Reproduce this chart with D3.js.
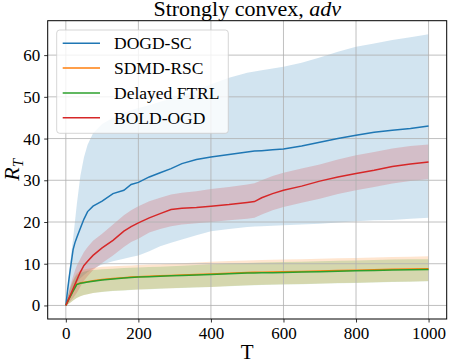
<!DOCTYPE html>
<html>
<head>
    <script src="https://cdnjs.cloudflare.com/ajax/libs/d3/7.8.5/d3.min.js"></script>
    <style>
        body { margin: 0; background: #fff; }
        svg { display: block; }
        svg text, svg tspan { font-family: "Times New Roman", "Liberation Serif" !important; }
    </style>
</head>
<body>
<div id="chart"></div>
<script>
    // Time steps shared by all series
    const T = [0, 5, 10, 15, 20, 25, 30, 40, 50, 60, 75, 100, 130, 160, 180, 200, 230, 260, 290, 320,
               360, 400, 450, 500, 520, 540, 570, 600, 650, 700, 750, 800, 850, 900, 950, 1000];

    const methods = ["DOGD-SC", "SDMD-RSC", "Delayed FTRL", "BOLD-OGD"];
    const colors = ["#1f77b4", "#ff7f0e", "#2ca02c", "#d62728"];

    // DOGD-SC
    const dogdMean = [0, 3.8, 7.2, 10.3, 13.4, 15, 16.2, 18.5, 20.7, 22.5, 23.8, 25, 26.8, 27.6, 29, 29.5, 30.8, 31.8, 32.8, 34,
                      35, 35.6, 36.2, 36.8, 37, 37.1, 37.3, 37.5, 38.2, 39.1, 40, 40.8, 41.5, 42, 42.4, 43];
    const dogdHigh = [0, 4.5, 8.5, 12.5, 16, 20, 24, 31, 35.5, 38.5, 41.3, 43.5, 45, 46.2, 46.8, 47.3, 48, 48.8, 49.6, 50.4,
                      51.6, 53, 54.6, 55.8, 56.1, 56.4, 56.8, 57.2, 58.2, 59.4, 60.8, 62, 62.8, 63.6, 64.3, 65];
    const dogdLow = [0, 1, 2, 3, 4, 4.8, 5.5, 6.5, 7.3, 8, 8.8, 9.8, 10.6, 11.2, 11.6, 12, 13, 14.2, 15, 15.8,
                     16.8, 17.8, 18.3, 18.8, 18.9, 19, 19.1, 19.2, 19.4, 19.6, 19.9, 20.2, 20.4, 20.5, 20.8, 21];

    // SDMD-RSC
    const sdmdMean = [0, 0.9, 1.8, 2.7, 3.5, 4.3, 5.1, 5.4, 5.55, 5.7, 5.9, 6.2, 6.45, 6.65, 6.8, 6.9, 7.0, 7.1, 7.2, 7.3,
                      7.42, 7.53, 7.72, 7.88, 7.93, 7.96, 8.0, 8.05, 8.15, 8.25, 8.36, 8.46, 8.56, 8.66, 8.72, 8.8];
    const sdmdHigh = [0, 2.1, 3.7, 5.1, 6.1, 7, 7.7, 8.3, 8.6, 8.8, 9, 9.3, 9.4, 9.5, 9.6, 9.7, 9.8, 9.9, 10, 10.1,
                      10.3, 10.5, 10.65, 10.8, 10.85, 10.9, 10.95, 11, 11.1, 11.2, 11.3, 11.4, 11.5, 11.6, 11.7, 11.8];
    const sdmdLow = [0, 0.2, 0.5, 0.8, 1.2, 1.5, 1.8, 2.2, 2.5, 2.7, 3, 3.3, 3.5, 3.65, 3.75, 3.85, 3.95, 4.05, 4.15, 4.25,
                     4.35, 4.45, 4.65, 4.85, 4.9, 4.95, 5, 5.05, 5.15, 5.25, 5.35, 5.45, 5.55, 5.65, 5.75, 5.85];

    // Delayed FTRL
    const ftrlMean = [0, 0.9, 1.8, 2.6, 3.4, 4.2, 5, 5.3, 5.45, 5.6, 5.8, 6.1, 6.35, 6.55, 6.7, 6.8, 6.9, 7.0, 7.1, 7.2,
                      7.3, 7.4, 7.6, 7.75, 7.8, 7.82, 7.86, 7.9, 8.0, 8.1, 8.2, 8.3, 8.4, 8.5, 8.55, 8.6];
    const ftrlHigh = [0, 2, 3.5, 4.8, 5.8, 6.7, 7.3, 7.8, 8.1, 8.3, 8.5, 8.7, 8.8, 8.95, 9.05, 9.1, 9.2, 9.3, 9.4, 9.5,
                      9.7, 9.9, 10.05, 10.2, 10.25, 10.3, 10.35, 10.4, 10.5, 10.6, 10.7, 10.8, 10.9, 11, 11.05, 11.1];
    const ftrlLow = [0, 0.2, 0.5, 0.8, 1.2, 1.5, 1.8, 2.2, 2.5, 2.7, 3, 3.2, 3.45, 3.6, 3.7, 3.8, 3.9, 4, 4.1, 4.2,
                     4.3, 4.4, 4.6, 4.8, 4.85, 4.9, 4.95, 5, 5.1, 5.2, 5.3, 5.4, 5.5, 5.6, 5.7, 5.8];

    // BOLD-OGD
    const boldMean = [0, 1, 2, 3, 4, 5, 6, 8, 9.6, 10.6, 12, 13.8, 15.6, 17.8, 18.9, 19.8, 21, 22, 23, 23.3,
                      23.5, 23.8, 24.2, 24.7, 24.9, 25.8, 26.8, 27.6, 28.6, 29.8, 30.8, 31.6, 32.4, 33.3, 33.9, 34.4];
    const boldHigh = [0, 2, 4, 5.5, 7, 8.3, 9.5, 11.2, 12.8, 14, 15.5, 17.2, 19.4, 21.6, 22.8, 23.8, 25, 25.8, 26.6, 27,
                      27.4, 27.9, 28.4, 29, 29.3, 30, 31, 31.8, 32.8, 33.8, 35, 36, 36.8, 37.6, 38.2, 38.6];
    const boldLow = [0, 0.3, 0.8, 1.3, 1.8, 2.4, 3, 4.5, 6, 7, 8.5, 10.2, 12, 14, 15.2, 16, 17.5, 18.3, 19, 19.4,
                     19.7, 20, 20.4, 20.8, 21, 21.8, 22.8, 23.6, 24.6, 25.6, 26.7, 27.6, 28.4, 29.2, 29.8, 30.3];

    const xTicks = [0, 200, 400, 600, 800, 1000];
    const yTicks = [0, 10, 20, 30, 40, 50, 60];

    const series = [
        { mean: dogdMean, high: dogdHigh, low: dogdLow },
        { mean: sdmdMean, high: sdmdHigh, low: sdmdLow },
        { mean: ftrlMean, high: ftrlHigh, low: ftrlLow },
        { mean: boldMean, high: boldHigh, low: boldLow }
    ];

    const FONT = "Times New Roman";
    const width = 449, height = 362;
    const margin = { left: 47.7, right: 2.3, top: 20.7, bottom: 43 };

    const svg = d3.select("#chart").append("svg")
        .attr("width", width)
        .attr("height", height)
        .attr("font-family", FONT);

    const x = d3.scaleLinear().domain([-50, 1050]).range([margin.left, width - margin.right]);
    const y = d3.scaleLinear().domain([-3.25, 68.25]).range([height - margin.bottom, margin.top]);

    // confidence bands
    series.forEach((s, i) => {
        const area = d3.area()
            .x((d, j) => x(T[j]))
            .y0((d, j) => y(s.low[j]))
            .y1((d, j) => y(s.high[j]));
        svg.append("path")
            .datum(s.mean)
            .attr("d", area)
            .attr("fill", colors[i])
            .attr("fill-opacity", 0.2);
    });

    // grid (above bands, below lines)
    svg.append("g").selectAll("line").data(xTicks).join("line")
        .attr("x1", d => x(d)).attr("x2", d => x(d))
        .attr("y1", margin.top).attr("y2", height - margin.bottom)
        .attr("stroke", "#b0b0b0").attr("stroke-width", 0.8);
    svg.append("g").selectAll("line").data(yTicks).join("line")
        .attr("y1", d => y(d)).attr("y2", d => y(d))
        .attr("x1", margin.left).attr("x2", width - margin.right)
        .attr("stroke", "#b0b0b0").attr("stroke-width", 0.8);

    // mean lines
    series.forEach((s, i) => {
        const line = d3.line()
            .x((d, j) => x(T[j]))
            .y(d => y(d));
        svg.append("path")
            .datum(s.mean)
            .attr("d", line)
            .attr("fill", "none")
            .attr("stroke", colors[i])
            .attr("stroke-width", 1.5);
    });

    // axes
    const xAxis = svg.append("g")
        .attr("transform", `translate(0,${height - margin.bottom})`)
        .call(d3.axisBottom(x).tickValues(xTicks).tickFormat(d3.format("d")).tickSize(3.5).tickPadding(4));
    const yAxis = svg.append("g")
        .attr("transform", `translate(${margin.left},0)`)
        .call(d3.axisLeft(y).tickValues(yTicks).tickFormat(d3.format("d")).tickSize(3.5).tickPadding(4));
    [xAxis, yAxis].forEach(a => {
        a.attr("font-family", FONT).attr("font-size", 17);
        a.select(".domain").remove();
        a.selectAll(".tick line").attr("stroke", "#000").attr("stroke-width", 0.8);
        a.selectAll(".tick text").attr("fill", "#000");
    });

    // frame
    svg.append("rect")
        .attr("x", margin.left).attr("y", margin.top)
        .attr("width", width - margin.left - margin.right)
        .attr("height", height - margin.top - margin.bottom)
        .attr("fill", "none").attr("stroke", "#000").attr("stroke-width", 1);

    // title
    const title = svg.append("text")
        .attr("x", (margin.left + width - margin.right) / 2)
        .attr("y", 16)
        .attr("text-anchor", "middle")
        .attr("font-size", 22);
    title.append("tspan").text("Strongly convex, ");
    title.append("tspan").attr("font-style", "italic").text("adv");

    // axis labels
    svg.append("text")
        .attr("x", (margin.left + width - margin.right) / 2)
        .attr("y", 359)
        .attr("text-anchor", "middle")
        .attr("font-size", 21)
        .text("T");

    const yl = svg.append("text")
        .attr("transform", `translate(19,${(margin.top + height - margin.bottom) / 2}) rotate(-90)`)
        .attr("text-anchor", "middle")
        .attr("font-size", 22)
        .attr("font-style", "italic");
    yl.append("tspan").text("R");
    yl.append("tspan").attr("font-size", 15).attr("dy", 4).text("T");

    // legend
    const lg = svg.append("g");
    lg.append("rect")
        .attr("x", 56.7).attr("y", 30)
        .attr("width", 171.6).attr("height", 103.3)
        .attr("rx", 3)
        .attr("fill", "#fff").attr("fill-opacity", 0.8)
        .attr("stroke", "#cccccc").attr("stroke-width", 0.8);
    methods.forEach((m, i) => {
        const ry = 43.3 + i * 24.8;
        lg.append("line")
            .attr("x1", 62.7).attr("x2", 100)
            .attr("y1", ry).attr("y2", ry)
            .attr("stroke", colors[i]).attr("stroke-width", 1.5);
        lg.append("text")
            .attr("x", 114).attr("y", ry + 6)
            .attr("font-size", 17.5)
            .text(m);
    });
</script>
</body>
</html>
